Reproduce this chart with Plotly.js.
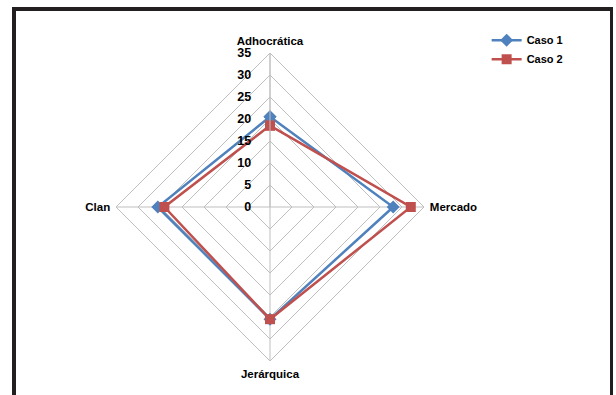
<!DOCTYPE html>
<html>
<head>
<meta charset="utf-8">
<script src="https://cdn.plot.ly/plotly-3.0.1.min.js"></script>
<style>
  html, body { margin: 0; padding: 0; background: #ffffff; }
  #frame {
    position: absolute; left: 12px; top: 7px; width: 601px; height: 400px;
    border-left: 4px solid #231f20; border-top: 4px solid #231f20; border-right: 3px solid #231f20;
    box-sizing: border-box;
  }
  #chart { position: absolute; left: 0; top: 0; width: 616px; height: 395px; }
</style>
</head>
<body>
<div id="chart"></div>
<div id="frame"></div>
<script>
// Competing-values culture profile: four dimensions, two cases
const categories = ['Adhocrática', 'Mercado', 'Jerárquica', 'Clan'];
const caso1 = [20.5, 28, 25.5, 25.5];
const caso2 = [18.5, 32, 25.5, 24];
const radialTicks = [0, 5, 10, 15, 20, 25, 30, 35];

// close each polygon by repeating the first vertex
const closed = arr => arr.concat([arr[0]]);

const font = { family: 'Liberation Sans, Arial, sans-serif', size: 11, color: '#000000', weight: 700 };
const tickFont = Object.assign({}, font, { size: 12.5 });

const traces = [
  {
    type: 'scatterpolar',
    name: 'Caso 1',
    r: closed(caso1),
    theta: closed(categories),
    mode: 'lines+markers',
    line: { color: '#4f81bd', width: 2.5 },
    marker: { symbol: 'diamond', size: 10, color: '#4f81bd' }
  },
  {
    type: 'scatterpolar',
    name: 'Caso 2',
    r: closed(caso2),
    theta: closed(categories),
    mode: 'lines+markers',
    line: { color: '#c0504d', width: 2.5 },
    marker: { symbol: 'square', size: 10, color: '#c0504d' }
  }
];

const layout = {
  width: 616,
  height: 395,
  margin: { l: 0, r: 0, t: 0, b: 0 },
  paper_bgcolor: '#ffffff',
  font: font,
  showlegend: true,
  legend: {
    x: 0.79, y: 0.935, xanchor: 'left', yanchor: 'top',
    font: font, bgcolor: 'rgba(0,0,0,0)', tracegroupgap: 6, itemwidth: 30
  },
  polar: {
    domain: { x: [115 / 616, 425 / 616], y: [34 / 395, 342 / 395] },
    bgcolor: '#ffffff',
    gridshape: 'linear',
    angularaxis: {
      rotation: 90,
      direction: 'clockwise',
      tickfont: Object.assign({}, font, { size: 11.5 }),
      ticks: 'outside',
      ticklen: 3,
      tickcolor: 'rgba(0,0,0,0)',
      showline: true,
      linecolor: '#bfbfbf',
      gridcolor: '#bfbfbf',
      linewidth: 1
    },
    radialaxis: {
      range: [0, 35],
      tickvals: radialTicks,
      ticktext: radialTicks.map(String),
      angle: 90,
      tickangle: 90,
      side: 'counterclockwise',
      tickfont: tickFont,
      ticks: 'outside',
      ticklen: 14,
      tickcolor: 'rgba(0,0,0,0)',
      showline: true,
      linecolor: '#bfbfbf',
      gridcolor: '#bfbfbf'
    }
  }
};

Plotly.newPlot('chart', traces, layout, { displayModeBar: false, staticPlot: true });
</script>
</body>
</html>
